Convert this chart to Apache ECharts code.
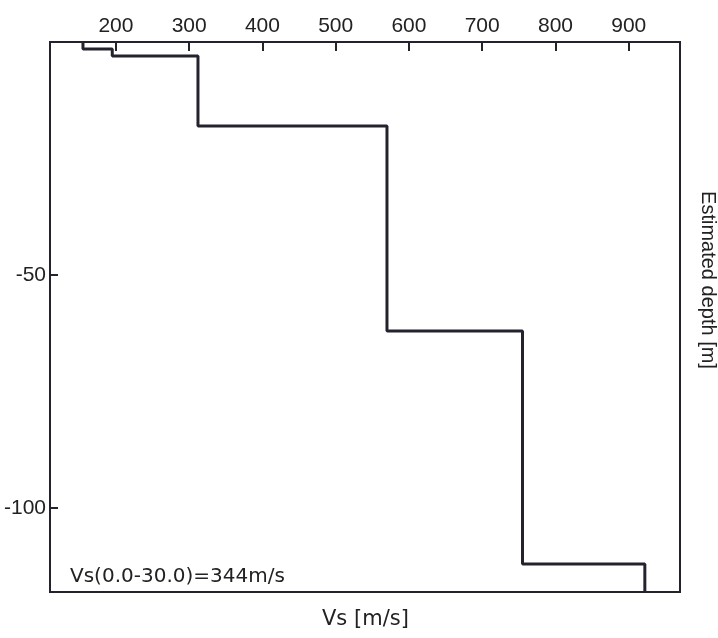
<html>
<head>
    <meta charset="utf-8">
    <title>Vs profile</title>
    <script src="https://cdn.jsdelivr.net/npm/echarts@6/dist/echarts.min.js"></script>
    <style>
        body { margin: 0; background: #fff; }
        #main { width: 718px; height: 638px; }
    </style>
</head>
<body>
<div id="main"></div>
<script>
    // layer velocities (m/s) and top depth of each layer (m)
    var layerVs = [155, 195, 312, 570, 755, 922];
    var layerTop = [0, -1.5, -3, -18, -62, -112];
    var bottomDepth = -118;
    var xTicks = [200, 300, 400, 500, 600, 700, 800, 900];
    var yTicks = [-50, -100];

    // step profile points: each layer gives a vertical segment
    var pts = [];
    for (var i = 0; i < layerVs.length; i++) {
        var lower = i + 1 < layerTop.length ? layerTop[i + 1] : bottomDepth;
        pts.push([layerVs[i], layerTop[i]]);
        pts.push([layerVs[i], lower]);
    }

    var ink = '#23232e';
    var myChart = echarts.init(document.getElementById('main'));

    var option = {
        backgroundColor: '#ffffff',
        animation: false,
        grid: {
            left: 50, right: 38, top: 42, bottom: 46,
            show: true, borderColor: ink, borderWidth: 2
        },
        xAxis: {
            type: 'value',
            position: 'top',
            min: 110,
            max: 970,
            axisLine: { lineStyle: { color: ink, width: 2 } },
            axisTick: { inside: true, length: 9, customValues: xTicks, lineStyle: { color: ink, width: 2 } },
            axisLabel: { customValues: xTicks, color: '#222', fontFamily: 'Liberation Sans', fontSize: 21, margin: 5 },
            splitLine: { show: false }
        },
        yAxis: {
            type: 'value',
            min: bottomDepth,
            max: 0,
            axisLine: { lineStyle: { color: ink, width: 2 } },
            axisTick: { inside: true, length: 8, customValues: yTicks, lineStyle: { color: ink, width: 2 } },
            axisLabel: { customValues: yTicks, color: '#222', fontFamily: 'Liberation Sans', fontSize: 21, margin: 4 },
            splitLine: { show: false }
        },
        graphic: [
            {
                type: 'text', left: 70, top: 567,
                style: { text: 'Vs(0.0-30.0)=344m/s', fill: '#222', font: '20px "DejaVu Sans"' }
            },
            {
                type: 'text', left: 322, top: 609,
                style: { text: 'Vs [m/s]', fill: '#222', font: '21px "DejaVu Sans"' }
            },
            {
                type: 'text', x: 708, y: 280, rotation: -Math.PI / 2,
                style: { text: 'Estimated depth [m]', fill: '#222', font: '20px "Liberation Sans"', align: 'center', verticalAlign: 'middle' }
            }
        ],
        series: [{
            type: 'line',
            data: pts,
            showSymbol: false,
            lineStyle: { color: ink, width: 3 }
        }]
    };

    myChart.setOption(option);
</script>
</body>
</html>
